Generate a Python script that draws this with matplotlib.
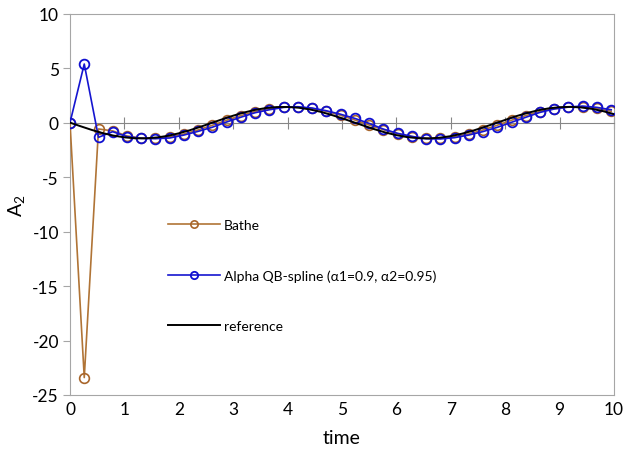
import matplotlib
matplotlib.use('Agg')
import matplotlib.pyplot as plt

plt.rcParams['font.family'] = ['Lato', 'DejaVu Sans']
plt.rcParams['mathtext.fontset'] = 'custom'
plt.rcParams['mathtext.rm'] = 'Lato'

# time steps of the two schemes (dt about 0.2618)
t_steps = [0.0, 0.262, 0.524, 0.785, 1.047, 1.309, 1.571, 1.833, 2.094, 2.356,
           2.618, 2.880, 3.142, 3.403, 3.665, 3.927, 4.189, 4.451, 4.712, 4.974,
           5.236, 5.498, 5.760, 6.021, 6.283, 6.545, 6.807, 7.069, 7.330, 7.592,
           7.854, 8.116, 8.378, 8.639, 8.901, 9.163, 9.425, 9.687, 9.948]

bathe = [0.0, -23.4, -0.58, -0.76, -1.22, -1.42, -1.44, -1.30, -1.04, -0.67,
         -0.24, 0.22, 0.65, 1.02, 1.28, 1.42, 1.43, 1.30, 1.04, 0.67,
         0.24, -0.22, -0.65, -1.02, -1.28, -1.42, -1.44, -1.30, -1.04, -0.67,
         -0.24, 0.22, 0.65, 1.02, 1.28, 1.42, 1.44, 1.30, 1.04]

alpha_qb = [0.0, 5.38, -1.35, -0.83, -1.29, -1.44, -1.47, -1.41, -1.14, -0.80,
            -0.42, 0.06, 0.50, 0.91, 1.18, 1.40, 1.46, 1.34, 1.09, 0.77,
            0.39, -0.07, -0.59, -0.98, -1.26, -1.48, -1.50, -1.38, -1.14, -0.82,
            -0.43, 0.03, 0.49, 0.94, 1.25, 1.44, 1.52, 1.40, 1.18]

t_ref = [0.0, 0.2, 0.4, 0.6, 0.8, 1.0, 1.2, 1.4, 1.6, 1.8,
         2.0, 2.2, 2.4, 2.6, 2.8, 3.0, 3.2, 3.4, 3.6, 3.8,
         4.0, 4.2, 4.4, 4.6, 4.8, 5.0, 5.2, 5.4, 5.6, 5.8,
         6.0, 6.2, 6.4, 6.6, 6.8, 7.0, 7.2, 7.4, 7.6, 7.8,
         8.0, 8.2, 8.4, 8.6, 8.8, 9.0, 9.2, 9.4, 9.6, 9.8, 10.0]
ref = [0.0, -0.34, -0.67, -0.96, -1.19, -1.35, -1.44, -1.44, -1.36, -1.21,
       -0.98, -0.70, -0.38, -0.03, 0.31, 0.64, 0.93, 1.17, 1.34, 1.43,
       1.44, 1.37, 1.22, 1.00, 0.72, 0.40, 0.06, -0.28, -0.61, -0.91,
       -1.15, -1.33, -1.43, -1.45, -1.38, -1.24, -1.02, -0.75, -0.43, -0.09,
       0.25, 0.59, 0.88, 1.13, 1.31, 1.42, 1.45, 1.39, 1.26, 1.05, 0.78]

x_ticks = [0, 1, 2, 3, 4, 5, 6, 7, 8, 9, 10]
y_ticks = [-25, -20, -15, -10, -5, 0, 5, 10]

border = '#a6a6a6'
axis_gray = '#868686'

fig = plt.figure(figsize=(6.25, 4.52), dpi=100)
ax = fig.add_axes([0.112, 0.1239, 0.8704, 0.8436])

ax.plot(t_steps, bathe, color='#b07436', lw=1.2, marker='o', ms=7,
        mfc='none', mec='#a8652a', mew=1.2, label='Bathe', zorder=3)
ax.plot(t_steps, alpha_qb, color='#1515d0', lw=1.2, marker='o', ms=7,
        mfc='none', mec='#1010d0', mew=1.3,
        label='Alpha QB-spline (\u03b11=0.9, \u03b12=0.95)', zorder=4)
ax.plot(t_ref, ref, color='black', lw=1.4, label='reference', zorder=5)

ax.set_xlim(0, 10)
ax.set_ylim(-25, 10)
ax.set_yticks(y_ticks)
ax.set_yticklabels([str(v) if v >= 0 else '-' + str(-v) for v in y_ticks])

# horizontal axis crosses at zero, labels sit at the bottom
ax.spines['bottom'].set_position(('data', 0))
ax.spines['bottom'].set_color(axis_gray)
ax.set_xticks(x_ticks)
ax.tick_params(axis='x', direction='inout', length=9, color=axis_gray,
               labelbottom=False)
for s in ['left', 'top', 'right']:
    ax.spines[s].set_color(border)
ax.tick_params(axis='y', direction='out', length=5, color=border,
               labelsize=12.5, pad=3)

sec = ax.secondary_xaxis(0.0)
sec.spines['bottom'].set_color(border)
sec.set_xticks(x_ticks)
sec.tick_params(length=0, labelsize=12.5, pad=4)

sec.set_xlabel('time', fontsize=14, labelpad=9)
ax.set_ylabel('A$_\\mathregular{2}$', fontsize=14)
ax.yaxis.set_label_coords(-0.077, 0.5)

leg = ax.legend(loc='upper left', bbox_to_anchor=(0.18, 0.462), frameon=False,
                fontsize=10, handlelength=3.75, handletextpad=0.3,
                labelspacing=2.75, borderpad=0, borderaxespad=0, numpoints=1,
                markerscale=0.75)

fig.savefig('out.png', dpi=100)
